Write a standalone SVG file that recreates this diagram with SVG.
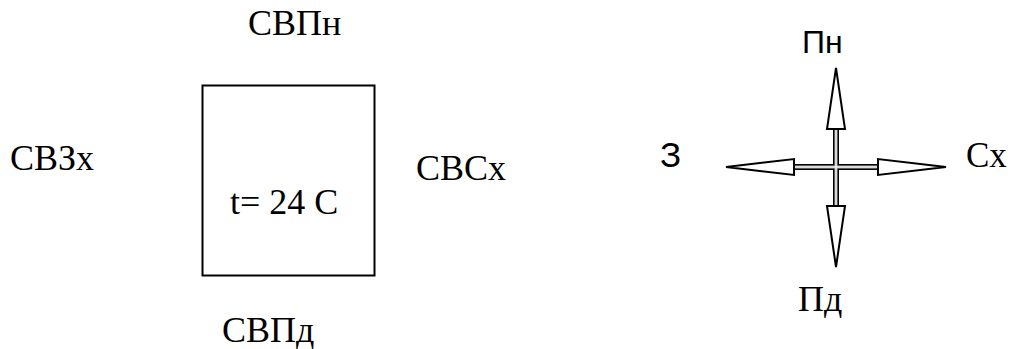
<svg xmlns="http://www.w3.org/2000/svg" width="1015" height="349" viewBox="0 0 1015 349">
<style>
.serif{font-family:"Liberation Serif","Times New Roman",serif;font-size:36px;fill:#000}
.sans{font-family:"Liberation Sans",Arial,sans-serif;font-size:32px;fill:#000}
.head{fill:#fff;stroke:#000;stroke-width:2;stroke-linejoin:miter}
.sh1{stroke:#000;stroke-width:6;fill:none}
.sh2{stroke:#b4b4b4;stroke-width:3;fill:none}
.sh3{stroke:#fff;stroke-width:1;fill:none}
</style>
<rect width="1015" height="349" fill="#fff"/>
<g id="room">
<rect x="202.5" y="85.5" width="172" height="190" fill="#fff" stroke="#000" stroke-width="2"/>
<text class="serif" x="230" y="214">t= 24 C</text>
</g>
<g id="label-top"><text class="serif" x="248" y="35">СВПн</text></g>
<g id="label-left"><text class="serif" x="10" y="170">СВЗх</text></g>
<g id="label-right"><text class="serif" x="416" y="180">СВСх</text></g>
<g id="label-bottom"><text class="serif" x="222" y="342">СВПд</text></g>
<g id="compass-labels">
<text class="sans" x="802" y="53">Пн</text>
<text class="sans" x="660" y="167" style="font-size:35px">З</text>
<text class="serif" x="966" y="167" style="font-size:35px">Сх</text>
<text class="serif" x="798" y="311">Пд</text>
</g>
<g id="connectors">
<line class="sh1" x1="836" y1="128" x2="836" y2="207"/>
<line class="sh1" x1="793" y1="167" x2="879" y2="167"/>
<line class="sh2" x1="836" y1="128" x2="836" y2="207"/>
<line class="sh2" x1="793" y1="167" x2="879" y2="167"/>
<line class="sh3" x1="836" y1="128" x2="836" y2="207"/>
<line class="sh3" x1="793" y1="167" x2="879" y2="167"/>
<polygon class="head" points="836,68 845,129 827,129"/>
<polygon class="head" points="836,267 845,206 827,206"/>
<polygon class="head" points="726,167 794,159 794,175"/>
<polygon class="head" points="946,167 878,159 878,175"/>
</g>
</svg>
